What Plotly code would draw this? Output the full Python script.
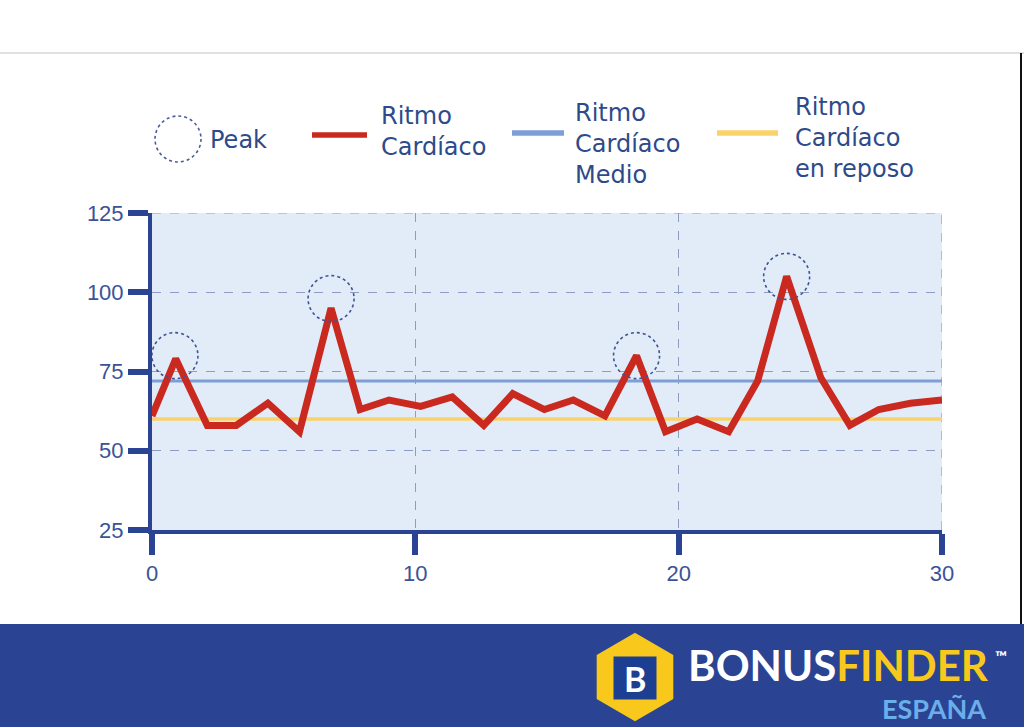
import math
import plotly.graph_objects as go

# ---------------- data ----------------
time_min = [0, 0.9, 2.1, 3.2, 4.4, 5.6, 6.8, 7.9, 9.0, 10.2, 11.4, 12.6, 13.7, 14.9,
            16.0, 17.2, 18.4, 19.5, 20.7, 21.9, 23.0, 24.1, 25.4, 26.5, 27.6, 28.8, 30]
heart_rate = [61, 79, 58, 58, 65, 56, 95, 63, 66, 64, 67, 58, 68, 63,
              66, 61, 80, 56, 60, 56, 72, 105, 73, 58, 63, 65, 66]
mean_rate = 72
rest_rate = 60
peak_x = [0.87, 6.8, 18.4, 24.1]
peak_y = [80, 98, 80, 105]

x_range = [0, 30]
y_range = [25, 125]
x_ticks = [0, 10, 20, 30]
y_ticks = [25, 50, 75, 100, 125]

legend_peak = "Peak"
legend_hr = ["Ritmo", "Cardíaco"]
legend_mean = ["Ritmo", "Cardíaco", "Medio"]
legend_rest = ["Ritmo", "Cardíaco", "en reposo"]

# ---------------- styles ----------------
W, H = 1024, 727
ML, MR, MT, MB = 152, 82, 213, 197
PW, PH = W - ML - MR, H - MT - MB

NAVY = "#2a4493"
TXT = "#2d4a8a"
RED = "#c9291f"
BLUE = "#7e9fd6"
YELLOW = "#f9d36a"
GRID = "#8e9cc2"


def xp(px):
    return (px - ML) / PW


def yp(py):
    return (H - MB - py) / PH


fig = go.Figure()

fig.add_trace(go.Scatter(x=x_range, y=[rest_rate, rest_rate], mode="lines",
                         line=dict(color=YELLOW, width=3.5), hoverinfo="skip"))
fig.add_trace(go.Scatter(x=x_range, y=[mean_rate, mean_rate], mode="lines",
                         line=dict(color=BLUE, width=3), hoverinfo="skip"))
fig.add_trace(go.Scatter(x=time_min, y=heart_rate, mode="lines",
                         line=dict(color=RED, width=7)))

shapes = []
# dashed frame on top and right (grid at range ends)
shapes.append(dict(type="line", xref="x domain", yref="y", x0=0, x1=1, y0=y_range[1], y1=y_range[1],
                   line=dict(color=GRID, width=1.2, dash="dash"), layer="below"))
shapes.append(dict(type="line", xref="x", yref="y domain", x0=x_range[1], x1=x_range[1], y0=0, y1=1,
                   line=dict(color=GRID, width=1.2, dash="dash"), layer="below"))

# peak circles
for px_, py_ in zip(peak_x, peak_y):
    shapes.append(dict(type="circle", xref="x", yref="y", xsizemode="pixel", ysizemode="pixel",
                       xanchor=px_, yanchor=py_, x0=-23, x1=23, y0=-23, y1=23,
                       line=dict(color="#3f5494", width=1.6, dash="dot"), layer="above"))

# top gray line and right border
shapes.append(dict(type="line", xref="paper", yref="paper", x0=xp(0), x1=xp(W), y0=yp(53), y1=yp(53),
                   line=dict(color="#d6d6d6", width=1.5)))
shapes.append(dict(type="line", xref="paper", yref="paper", x0=xp(1021), x1=xp(1021), y0=yp(53), y1=yp(624),
                   line=dict(color="#111111", width=2)))

# bottom band
shapes.append(dict(type="rect", xref="paper", yref="paper", x0=xp(0), x1=xp(W), y0=yp(H), y1=yp(624),
                   fillcolor=NAVY, line=dict(width=0)))

# hexagon logo
cx, cy, R = 635, 677, 42.5
pts = []
for ang in [90, 30, -30, -90, -150, 150]:
    a = math.radians(ang)
    pts.append((xp(cx + R * math.cos(a)), yp(cy - R * math.sin(a))))
path = "M " + " L ".join(f"{x:.5f},{y:.5f}" for x, y in pts) + " Z"
shapes.append(dict(type="path", xref="paper", yref="paper", path=path,
                   fillcolor="#f8c91c", line=dict(color="#f8c91c", width=3)))
shapes.append(dict(type="rect", xref="paper", yref="paper", x0=xp(615), x1=xp(655), y0=yp(698), y1=yp(658),
                   fillcolor="#1d3f91", line=dict(color="#1d3f91", width=3)))

# legend symbols
shapes.append(dict(type="circle", xref="paper", yref="paper", x0=xp(155), x1=xp(201), y0=yp(162), y1=yp(116),
                   line=dict(color="#4a5d9a", width=1.6, dash="dot")))
shapes.append(dict(type="line", xref="paper", yref="paper", x0=xp(312), x1=xp(367), y0=yp(135), y1=yp(135),
                   line=dict(color=RED, width=5.5)))
shapes.append(dict(type="line", xref="paper", yref="paper", x0=xp(512), x1=xp(564), y0=yp(133), y1=yp(133),
                   line=dict(color=BLUE, width=5.5)))
shapes.append(dict(type="line", xref="paper", yref="paper", x0=xp(717), x1=xp(778), y0=yp(133), y1=yp(133),
                   line=dict(color=YELLOW, width=5.5)))

annotations = []
LEG_FONT = dict(family="DejaVu Sans", size=24, color=TXT)


def label(text, left, cy_, font=LEG_FONT, anchor="left"):
    annotations.append(dict(text=text, xref="paper", yref="paper", x=xp(left), y=yp(cy_),
                            xanchor=anchor, yanchor="middle", align="left", showarrow=False,
                            borderpad=0, font=font))


label(legend_peak, 209, 140)
label("<br>".join(legend_hr), 380, 131)
label("<br>".join(legend_mean), 574, 144)
label("<br>".join(legend_rest), 794, 138)

# logo texts
label("<b>B</b>", 635, 678, font=dict(family="Lato", size=34, color="white"), anchor="center")
label("<b>BONUS<span style='color:#f8c91c'>FINDER</span></b>", 687, 665,
      font=dict(family="Lato", size=42, color="white"))
label("<b>™</b>", 994, 656, font=dict(family="Lato", size=16, color="white"))
label("<b>ESPAÑA</b>", 987, 708, font=dict(family="Lato", size=27, color="#6aaeea"), anchor="right")

fig.update_layout(
    width=W, height=H,
    margin=dict(l=ML, r=MR, t=MT, b=MB, pad=0),
    paper_bgcolor="white",
    plot_bgcolor="#e2ecf8",
    showlegend=False,
    shapes=shapes,
    annotations=annotations,
    xaxis=dict(range=x_range, tickvals=x_ticks, showgrid=True, gridcolor=GRID, griddash="dash",
               gridwidth=1.2, zeroline=False, showline=True, linecolor=NAVY, linewidth=4,
               ticks="outside", ticklen=21, tickwidth=6, tickcolor=NAVY,
               tickfont=dict(family="Liberation Sans", size=22, color="#3a5396")),
    yaxis=dict(range=y_range, tickvals=y_ticks, showgrid=True, gridcolor=GRID, griddash="dash",
               gridwidth=1.2, zeroline=False, showline=True, linecolor=NAVY, linewidth=4,
               ticks="outside", ticklen=20, tickwidth=6, tickcolor=NAVY,
               tickfont=dict(family="Liberation Sans", size=22, color="#3a5396")),
)

fig.write_html("out.html", config={"displayModeBar": False},
               post_script="document.body.style.margin='0';document.body.style.overflow='hidden';")
